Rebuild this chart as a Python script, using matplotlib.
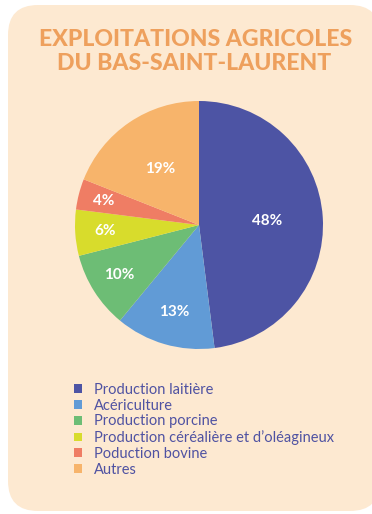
import matplotlib
matplotlib.use("Agg")
import matplotlib.pyplot as plt
import numpy as np
from matplotlib.patches import FancyBboxPatch

# Farm types and their share (%)
categories = [
    "Production laitière",
    "Acériculture",
    "Production porcine",
    "Production céréalière et d\u2019oléagineux",
    "Poduction bovine",
    "Autres",
]
shares = [48, 13, 10, 6, 4, 19]
title_lines = ["EXPLOITATIONS AGRICOLES", "DU BAS-SAINT-LAURENT"]

colors = ["#4d54a4", "#619bd6", "#6dbd75", "#d8dc2c", "#ef7d64", "#f7b46b"]
label_radius = [0.55, 0.73, 0.76, 0.76, 0.79, 0.55]

W, H = 372, 514
fig = plt.figure(figsize=(W / 100, H / 100), dpi=100, facecolor="white")

# Background card in pixel coordinates
bg = fig.add_axes([0, 0, 1, 1])
bg.set_xlim(0, W)
bg.set_ylim(H, 0)
bg.axis("off")
bg.add_patch(FancyBboxPatch((8, 5), 372, 506,
                            boxstyle="round,pad=0,rounding_size=30",
                            facecolor="#fde9d1", edgecolor="none"))

title_kw = dict(ha="center", va="center", color="#eea05d",
                fontsize=16.6, fontweight="black", family="Lato")
bg.text(196, 39, title_lines[0], **title_kw)
bg.text(194, 63, title_lines[1], **title_kw)

# Pie
cx, cy, r = 199, 225, 124
ax = fig.add_axes([(cx - r) / W, (H - cy - r) / H, 2 * r / W, 2 * r / H])
wedges, _ = ax.pie(shares, colors=colors, startangle=90, counterclock=False,
                   radius=1, wedgeprops=dict(linewidth=0))
ax.set_xlim(-1, 1)
ax.set_ylim(-1, 1)
ax.set_aspect("equal")
ax.axis("off")

for w, v, d in zip(wedges, shares, label_radius):
    mid = np.deg2rad((w.theta1 + w.theta2) / 2)
    ax.text(d * np.cos(mid), d * np.sin(mid), f"{v}%", ha="center", va="center",
            color="white", fontsize=11, fontweight="bold", family="Lato")

leg = fig.legend(wedges, categories, loc="upper left",
                 bbox_to_anchor=(74 / W, 1 - 383 / H), frameon=False,
                 prop=dict(family="Lato", size=10.5),
                 handlelength=0.55, handleheight=0.55, handletextpad=0.85,
                 labelspacing=0.12, borderpad=0, borderaxespad=0)
for t in leg.get_texts():
    t.set_color("#4f52a2")

fig.savefig("out.png", dpi=100, facecolor="white")
